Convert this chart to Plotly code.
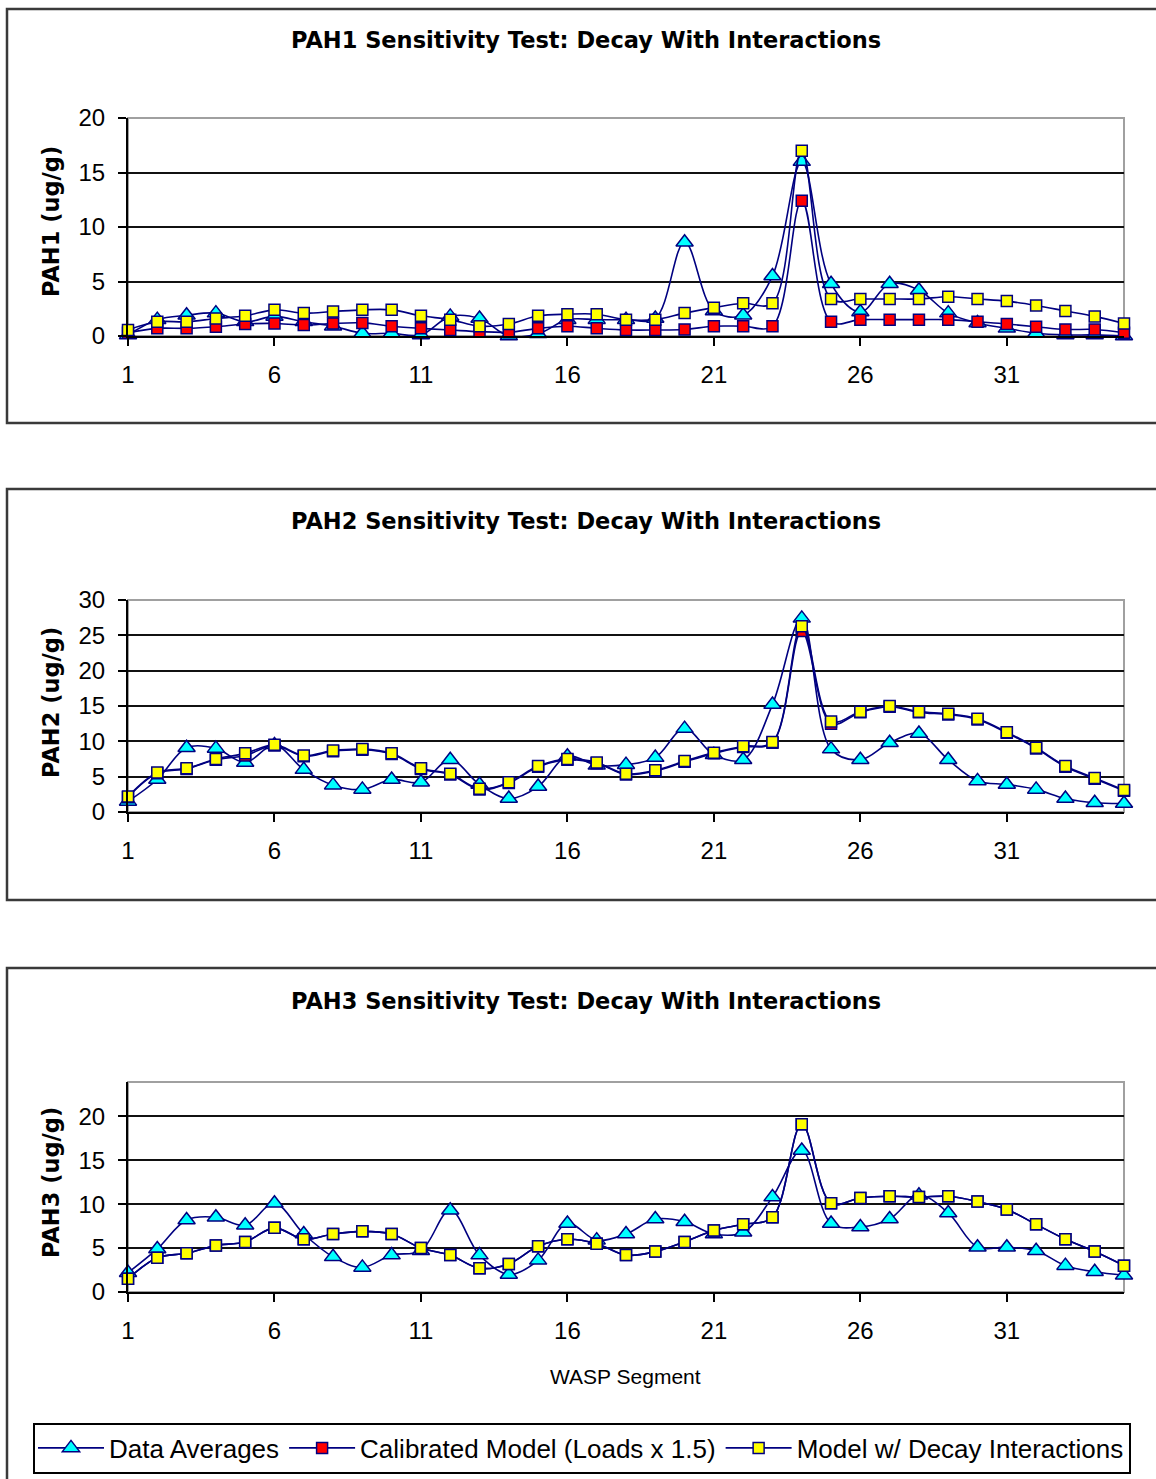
import plotly.graph_objects as go

# ---------------------------------------------------------------- data
segments = list(range(1, 36))
x_tick_vals = [1, 6, 11, 16, 21, 26, 31]

series_names = ["Data Averages", "Calibrated Model (Loads x 1.5)", "Model w/ Decay Interactions"]

pah1_data = [0.1, 1.5, 1.9, 2.1, 1.3, 1.8, 1.3, 0.9, 0.25, 0.25, 0.1, 1.8, 1.6, 0.0, 0.2,
             1.5, 1.5, 1.5, 1.6, 8.6, 2.3, 1.9, 5.5, 16.0, 4.8, 2.2, 4.8, 4.2, 2.1, 1.2,
             0.7, 0.25, 0.1, 0.1, 0.0]
pah1_calibrated = [0.3, 0.7, 0.7, 0.85, 1.1, 1.15, 1.0, 1.15, 1.2, 0.9, 0.7, 0.55, 0.4, 0.35, 0.7,
                   0.9, 0.7, 0.55, 0.55, 0.6, 0.9, 0.9, 0.9, 12.4, 1.3, 1.5, 1.5, 1.5, 1.5, 1.3,
                   1.1, 0.85, 0.6, 0.6, 0.3]
pah1_decay = [0.55, 1.3, 1.3, 1.6, 1.85, 2.4, 2.1, 2.25, 2.4, 2.4, 1.85, 1.5, 0.9, 1.1, 1.85,
              2.0, 2.0, 1.5, 1.5, 2.1, 2.6, 3.0, 3.0, 17.0, 3.4, 3.4, 3.4, 3.4, 3.6, 3.4,
              3.2, 2.8, 2.3, 1.8, 1.15]

pah2_data = [1.5, 4.6, 9.1, 9.0, 7.0, 9.5, 6.0, 3.8, 3.2, 4.6, 4.2, 7.4, 3.9, 1.9, 3.6,
             7.9, 6.6, 6.7, 7.7, 11.8, 8.1, 7.4, 15.2, 27.4, 8.9, 7.4, 9.8, 11.1, 7.4, 4.4,
             3.9, 3.2, 1.9, 1.3, 1.2]
pah2_calibrated = [2.1, 5.5, 6.1, 7.4, 8.0, 9.4, 7.9, 8.6, 8.8, 8.2, 6.1, 5.3, 3.2, 4.1, 6.4,
                   7.4, 6.9, 5.3, 5.8, 7.1, 8.3, 9.2, 9.8, 25.6, 12.5, 14.1, 14.9, 14.1, 13.8, 13.1,
                   11.2, 9.0, 6.4, 4.7, 3.0]
pah2_decay = [2.2, 5.6, 6.2, 7.5, 8.3, 9.5, 8.0, 8.7, 8.9, 8.3, 6.2, 5.4, 3.3, 4.2, 6.5,
              7.5, 7.0, 5.4, 5.9, 7.2, 8.4, 9.3, 9.9, 26.3, 12.8, 14.2, 15.0, 14.2, 13.9, 13.2,
              11.3, 9.1, 6.5, 4.8, 3.1]

pah3_data = [2.2, 4.9, 8.2, 8.5, 7.6, 10.1, 6.6, 4.0, 2.8, 4.2, 4.7, 9.3, 4.2, 2.0, 3.6,
             7.8, 5.9, 6.6, 8.3, 8.0, 6.6, 6.8, 10.8, 16.1, 7.8, 7.4, 8.3, 11.0, 9.0, 5.1,
             5.1, 4.7, 3.0, 2.3, 1.9]
pah3_calibrated = [1.5, 3.9, 4.4, 5.3, 5.7, 7.3, 6.0, 6.6, 6.9, 6.6, 5.0, 4.2, 2.7, 3.2, 5.2,
                   6.0, 5.5, 4.2, 4.6, 5.7, 7.0, 7.7, 8.5, 19.1, 10.1, 10.7, 10.9, 10.8, 10.9, 10.3,
                   9.4, 7.7, 6.0, 4.6, 3.0]
pah3_decay = [1.5, 3.9, 4.4, 5.3, 5.7, 7.3, 6.0, 6.6, 6.9, 6.6, 5.0, 4.2, 2.7, 3.2, 5.2,
              6.0, 5.5, 4.2, 4.6, 5.7, 7.0, 7.7, 8.5, 19.1, 10.1, 10.7, 10.9, 10.8, 10.9, 10.3,
              9.4, 7.7, 6.0, 4.6, 3.0]

panel_titles = ["PAH1 Sensitivity Test: Decay With Interactions",
                "PAH2 Sensitivity Test: Decay With Interactions",
                "PAH3 Sensitivity Test: Decay With Interactions"]
y_titles = ["PAH1 (ug/g)", "PAH2 (ug/g)", "PAH3 (ug/g)"]
x_title = "WASP Segment"

y_ranges = [[0, 20], [0, 30], [0, 23.9]]
y_tick_vals = [[0, 5, 10, 15, 20], [0, 5, 10, 15, 20, 25, 30], [0, 5, 10, 15, 20]]

panels = [
    (pah1_data, pah1_calibrated, pah1_decay),
    (pah2_data, pah2_calibrated, pah2_decay),
    (pah3_data, pah3_calibrated, pah3_decay),
]

# ---------------------------------------------------------------- layout geometry (pixels)
W, H = 1156, 1479
plot_left, plot_right = 128, 1124
plot_boxes = [(118, 336), (600, 812), (1082, 1292)]     # top, bottom of each plot area
outer_boxes = [(9, 423), (489, 900), (968, 1500)]       # framed chart areas
title_y = [40, 521, 1001]
ytitle_y = [222, 703, 1183]

NAVY = "#000080"
TICK_FONT = dict(family="Liberation Sans, Arial", size=24, color="#000")
LEGEND_FONT = dict(family="Liberation Sans, Arial", size=26, color="#000")
BOLD_FONT = dict(family="DejaVu Sans", size=22.5, color="#000", weight="bold")


def px(x):
    return x / W


def py(y):
    return 1 - y / H


styles = [
    dict(symbol="triangle-up", size=15, color="#00FFFF", line=dict(color=NAVY, width=1.5)),
    dict(symbol="square", size=11, color="#FF0000", line=dict(color=NAVY, width=1.5)),
    dict(symbol="square", size=11, color="#FFFF00", line=dict(color=NAVY, width=1.5)),
]

fig = go.Figure()

for i, series in enumerate(panels):
    suffix = "" if i == 0 else str(i + 1)
    for j, values in enumerate(series):
        fig.add_trace(go.Scatter(
            x=segments, y=values, name=series_names[j],
            mode="lines+markers",
            line=dict(color=NAVY, width=1.6, shape="spline", smoothing=1),
            marker=styles[j],
            cliponaxis=False,
            showlegend=(i == 0),
            legendgroup=series_names[j],
            xaxis="x" + suffix, yaxis="y" + suffix,
        ))

layout = dict(
    width=W, height=H,
    margin=dict(l=0, r=0, t=0, b=0, autoexpand=False),
    paper_bgcolor="white", plot_bgcolor="white",
    showlegend=True,
    legend=dict(
        orientation="h", x=px(582), xanchor="center", y=py(1448), yanchor="middle",
        bordercolor="#000", borderwidth=2, bgcolor="white",
        font=LEGEND_FONT, itemwidth=66, tracegroupgap=0,
    ),
    shapes=[], annotations=[],
)

for i in range(3):
    suffix = "" if i == 0 else str(i + 1)
    top, bottom = plot_boxes[i]
    layout["xaxis" + suffix] = dict(
        domain=[px(plot_left), px(plot_right)], anchor="y" + suffix,
        range=[1, 35], tickmode="array", tickvals=x_tick_vals,
        ticks="outside", ticklen=8, tickwidth=2, tickcolor="#000",
        showline=True, linecolor="#000", linewidth=2,
        showgrid=False, zeroline=False, tickfont=TICK_FONT,
        ticklabelstandoff=8, automargin=False,
    )
    grid_vals = [v for v in y_tick_vals[i] if 0 < v < y_ranges[i][1]]
    layout["yaxis" + suffix] = dict(
        domain=[py(bottom), py(top)], anchor="x" + suffix,
        range=y_ranges[i], tickmode="array", tickvals=y_tick_vals[i],
        ticks="outside", ticklen=8, tickwidth=2, tickcolor="#000",
        showline=True, linecolor="#000", linewidth=2,
        showgrid=False, zeroline=False, tickfont=TICK_FONT,
        ticklabelstandoff=8, automargin=False,
        minor=dict(tickmode="array", tickvals=grid_vals, showgrid=True,
                   gridcolor="#111", gridwidth=2, ticks=""),
    )
    # grey frame around the plot area
    layout["shapes"].append(dict(
        type="rect", xref="x" + suffix + " domain", yref="y" + suffix + " domain",
        x0=0, x1=1, y0=0, y1=1, line=dict(color="#a0a0a0", width=2), layer="below",
    ))
    # outer chart frame
    o_top, o_bottom = outer_boxes[i]
    layout["shapes"].append(dict(
        type="rect", xref="paper", yref="paper",
        x0=px(7), x1=px(1170), y0=py(o_bottom), y1=py(o_top),
        line=dict(color="#3a3a3a", width=2.5), fillcolor="rgba(0,0,0,0)", layer="below",
    ))
    layout["annotations"].append(dict(
        text=panel_titles[i], x=px(586), y=py(title_y[i]), xref="paper", yref="paper",
        xanchor="center", yanchor="middle", showarrow=False, font=BOLD_FONT,
    ))
    layout["annotations"].append(dict(
        text=y_titles[i], x=px(51), y=py(ytitle_y[i]), xref="paper", yref="paper",
        xanchor="center", yanchor="middle", showarrow=False, textangle=-90, font=BOLD_FONT,
    ))

layout["annotations"].append(dict(
    text=x_title, x=px(625), y=py(1376), xref="paper", yref="paper",
    xanchor="center", yanchor="middle", showarrow=False,
    font=dict(family="Liberation Sans, Arial", size=21, color="#000"),
))

fig.update_layout(**layout)
fig.write_html("out.html")
